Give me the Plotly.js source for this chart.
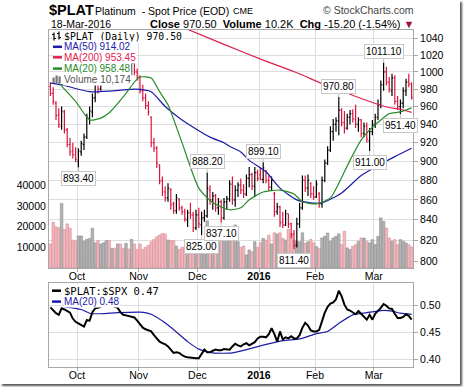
<!DOCTYPE html>
<html><head><meta charset="utf-8">
<script src="https://cdn.plot.ly/plotly-3.0.1.min.js"></script>
<style>
html,body{margin:0;padding:0;background:#fff;}
#wrap{position:absolute;left:0;top:0;width:460px;height:384px;box-shadow:2px 2px 2px #555;background:#fff;}
#chart{width:460px;height:384px;}
</style></head><body><div id="wrap"><div id="chart"></div></div>
<script>
// ---------- DATA ----------
const monthLabels = ['Oct','Nov','Dec','<b>2016</b>','Feb','Mar'];
const monthStartBar = [10,32,53,75,95,116];
const priceTicks = [800,820,840,860,880,900,920,940,960,980,1000,1020,1040];
const volumeTicks = [10000,20000,30000,40000];
const ratioTicks = [0.40,0.45,0.50];

const open = [983,975,964,950,938,954,934,918,911,907,900,910,918,926,947,954,970,988,980,996,
1003,1008,1001,1005,1002,1011,1006,998,1004,999,1010,1000,994,978,970,961,948,920,914,896,
880,868,862,870,856,849,860,852,848,840,847,845,832,845,835,842,844,870,860,864,
852,858,842,858,861,876,860,870,875,870,866,882,886,874,888,886,881,890,880,873,
866,848,853,838,835,846,836,826,815,836,852,880,872,877,866,863,866,856,880,898,
912,932,940,944,956,942,936,948,952,946,940,945,930,938,922,932,940,948,962,985,
1000,988,978,993,966,960,964,978,988,985.7];
const high = [988,982,966,958,960,956,936,925,920,915,914,922,930,952,960,975,992,992,1000,1008,
1012,1013,1010,1012,1015,1016,1010,1008,1010,1013,1012,1004,996,985,975,966,949,925,916,897,
884,874,877,872,858,866,862,854,851,850,857,848,850,852,848,850,888.2,875,868,866,
862,860,862,864,880,884,875,878,882,876,886,894,888,894,891,894,899.1,891,885,884,
868,857,854,848,850,846,837,830,842,857,885,885,886,878,874,880,868,884,902,916,
938,946,948,970.8,958,955,952,956,957,962,948,946,942,942,936,945,952,968,990,1011.1,
1006,994,998,996,972,968,982,992,998,988];
const low = [972,962,945,936,934,930,915,906,903,899,893.4,906,912,924,940,948,965,975,978,990,
998,998,995,999,1000,1002,994,994,996,996,996,990,975,966,957,950,915,910,893,876,
864,858,858,850,846,846,849,845,838,833,841,828,830,832,825,838,842,855,850,848,
845,837.1,840,850,858,855,853,863,866,862,864,873,870,863,879,880,877,877,869,869,
843,845,833,832,834,832,822,811.4,813,832,850,868,864,862,860,862,852,852,878,896,
910,922,932,928,938,930,934,940,942,936,932,926,926,920,911,928,936,945,958,978,
984,976,972,962,956,951.4,958,972,982,968];
const close = [975,966,950,940,955,934,918,910,907,902,911,919,926,948,955,970,987,980,996,1003,
1008,1001,1005,1002,1011,1006,998,1004,999,1010,1000,994,978,970,961,954,920,914,898,879,
868,862,872,855,849,862,852,848,841,847,845,832,845,836,842,844,872,860,864,852,
858,842,858,861,876,860,870,875,870,866,882,886,874,888,882,881,893,880,873,880,
848,853,837,835,846,836,826,815,836,852,880,872,880,866,863,876,856,880,898,912,
932,940,944,956,942,936,948,952,946,940,945,930,938,924,932,940,948,962,985,1000,
988,980,993,966,960,964,978,988,985.7,970.5];
const volume = [11600,22100,19900,19500,31200,18600,21300,19200,13500,13000,15500,15500,12900,13800,14300,19200,12200,13200,11600,12200,
13200,13200,9500,9500,11600,11600,9500,11900,9200,13800,11600,9000,11600,9000,10000,11000,12700,13800,15100,15900,
16700,16400,13500,13200,13200,10600,9000,10000,10000,11000,11900,12200,10600,12700,12700,12700,22800,12700,11900,13200,
12700,13200,14300,15900,17500,15100,20800,12700,10000,10600,6300,8700,7900,12700,10000,12200,14300,13500,15900,11600,
17000,16400,17000,14300,13500,18600,16700,13500,12700,12700,17000,11900,12700,13800,12200,10300,9500,14500,15300,16900,
12900,14500,15300,16500,11300,17700,9700,8900,10500,11300,12900,14500,14500,12900,12100,13700,11300,15300,24200,22500,
19300,14500,12900,13700,11300,13700,12900,12100,11300,10174];

const ma50Bar = [0,4,14,26,30,36,41,47,57,62,64,68,71,77,82,88,93,97,104,111,118,123,129];
const ma50Val = [987,985,977,979,980,977,960,945,926,920,916,910,901,889,872,860,857,857,867,885,897,905,914];
const ma200Bar = [48,62,76,88,98,104,112,120,125,129];
const ma200Val = [1053,1033,1014,999,985,978,968,959.5,957,953.5];
const ma20Bar = [3,9,14,18,21,26,30,32,36,39,42,47,53,58,64,68,71,76,82,87,90,95,100,103,107,111,114,118,121,125,129];
const ma20Val = [987,966,945,947,953,971,988,994,993,977,962,920,872,857,850,852,860,868,870,866,858,856,862,877,901,923,934,945,952,954,958.5];

const ratio = [0.497,0.492,0.486,0.483,0.495,0.493,0.490,0.487,0.476,0.470,0.467,0.464,0.461,0.473,0.472,0.488,0.495,0.496,0.498,0.500,
0.503,0.502,0.500,0.499,0.496,0.488,0.483,0.482,0.481,0.480,0.478,0.472,0.465,0.459,0.456,0.454,0.452,0.445,0.438,0.433,
0.430,0.428,0.424,0.418,0.412,0.413,0.412,0.408,0.405,0.404,0.403,0.402,0.402,0.402,0.411,0.418,0.413,0.413,0.416,0.418,
0.417,0.417,0.419,0.419,0.418,0.424,0.429,0.426,0.424,0.428,0.430,0.426,0.429,0.432,0.439,0.442,0.442,0.441,0.447,0.458,
0.447,0.433,0.452,0.437,0.441,0.439,0.443,0.439,0.439,0.445,0.459,0.468,0.463,0.454,0.452,0.452,0.455,0.472,0.487,0.498,
0.504,0.506,0.512,0.528,0.518,0.502,0.493,0.491,0.487,0.484,0.490,0.484,0.478,0.474,0.483,0.474,0.485,0.490,0.496,0.503,
0.500,0.495,0.494,0.485,0.477,0.477,0.479,0.484,0.481,0.474];
const ratioMaBar = [5,11,14,18,24,32,36,42,49,53,58,65,75,83,89,95,99,103,108,113,118,122,125,129];
const ratioMaVal = [0.498,0.493,0.486,0.485,0.487,0.488,0.484,0.464,0.433,0.419,0.412,0.412,0.425,0.435,0.438,0.448,0.452,0.467,0.483,0.487,0.491,0.490,0.486,0.484];

// annotated extremes: bar, value, side
const markBar = [10,54,56,61,76,87,103,114,119,125];
const markVal = [893.40,825.00,888.20,837.10,899.10,811.40,970.80,911.00,1011.10,951.40];
const markSide = ['low','low','high','low','high','low','high','low','high','low'];

const legendMain = ['$PLAT (Daily) 970.50','MA(50) 914.02','MA(200) 953.45','MA(20) 958.48','Volume 10,174'];
const legendLower = ['$PLAT:$SPX 0.47','MA(20) 0.48'];

// ---------- STYLE / LAYOUT ----------
const W=460,H=384,ML=49,MR=47,MT=30,MB=17;
const PW=W-ML-MR, PH=H-MT-MB;
const px=x=>(x-ML)/PW, py=y=>(H-MB-y)/PH;
const C_UP='#000000', C_DN='#dc143c', C_MA50='#1c1ca8', C_MA200='#e0204a', C_MA20='#2a8a2a';
const FONT='Liberation Sans, Arial, sans-serif';
const MONO='DejaVu Sans Mono, monospace';

const idx = close.map((_,i)=>i);
const volColor = close.map((c,i)=> c>=open[i] ? '#b4b4b4' : '#f2b8bd');
const volLine = close.map((c,i)=> c>=open[i] ? '#8c8c8c' : '#d88a96');

const traces = [
 {type:'bar', x:idx, y:volume, xaxis:'x', yaxis:'y', marker:{color:volColor, line:{color:volLine,width:0.6}}, width:0.9, hoverinfo:'skip', showlegend:false},
 {type:'scatter', mode:'lines', x:ma200Bar, y:ma200Val, xaxis:'x', yaxis:'y2', line:{color:C_MA200,width:1.2,shape:'spline',smoothing:0.6}, showlegend:false, hoverinfo:'skip'},
 {type:'scatter', mode:'lines', x:ma50Bar, y:ma50Val, xaxis:'x', yaxis:'y2', line:{color:C_MA50,width:1.2,shape:'spline',smoothing:0.6}, showlegend:false, hoverinfo:'skip'},
 {type:'scatter', mode:'lines', x:ma20Bar, y:ma20Val, xaxis:'x', yaxis:'y2', line:{color:C_MA20,width:1.2,shape:'spline',smoothing:0.6}, showlegend:false, hoverinfo:'skip'},
 {type:'ohlc', x:idx, open:open, high:high, low:low, close:close, xaxis:'x', yaxis:'y2', tickwidth:0.4,
  increasing:{line:{color:C_UP,width:1.2}}, decreasing:{line:{color:C_DN,width:1.2}}, showlegend:false, hoverinfo:'skip'},
 {type:'scatter', mode:'lines', x:ratioMaBar, y:ratioMaVal, xaxis:'x2', yaxis:'y3', line:{color:C_MA50,width:1.2,shape:'spline',smoothing:0.6}, showlegend:false, hoverinfo:'skip'},
 {type:'scatter', mode:'lines', x:idx, y:ratio, xaxis:'x2', yaxis:'y3', line:{color:'#000',width:2}, showlegend:false, hoverinfo:'skip'}
];

const gridC='#dedede', lineC='#a8a8a8';
const tickvalsX = monthStartBar.map(b=>b-0.5);
const xCommon = {range:[-0.5,close.length-0.5], tickvals:tickvalsX, ticktext:monthLabels, showgrid:true, gridcolor:gridC,
  ticks:'outside', ticklen:3, tickcolor:lineC, ticklabelstandoff:-5, showline:true, mirror:true, linecolor:lineC, linewidth:1,
  tickfont:{family:FONT,size:10.5,color:'#000'}, zeroline:false, fixedrange:true, rangeslider:{visible:false}};

const annotations = [];
const shapes = [];
// extreme labels
markBar.forEach((b,k)=>{
  annotations.push({x:b, y:Math.log10(markVal[k]), xref:'x', yref:'y2', text:markVal[k].toFixed(2),
   showarrow:true, arrowhead:0, arrowwidth:1, arrowcolor:'#c4c4c4', ax:0, ay:(markSide[k]==='low'?11:-11), standoff:0,
   bgcolor:'#ffffff', bordercolor:'#c8c8c8', borderwidth:1, borderpad:1, font:{family:FONT,size:10,color:'#000'}});
});
// main legend
const legColors = ['#000',C_MA50,C_MA200,C_MA20,'#555'];
const legY = [36.2,46.8,57.3,68.6,79.2];
legendMain.forEach((t,k)=>{
  annotations.push({xref:'paper',yref:'paper',x:px(k===0?63:62.5),y:py(legY[k]),xanchor:'left',yanchor:'middle',text:t,showarrow:false,
   font:{family:(k===0?MONO:FONT),size:(k===0?9.8:10),color:legColors[k]}, bgcolor:'#ffffff', borderpad:0});
});
[1,2,3].forEach(k=>{
  shapes.push({type:'line',xref:'paper',yref:'paper',x0:px(53),x1:px(62),y0:py(legY[k]),y1:py(legY[k]),line:{color:legColors[k],width:2.5}});
});
// OHLC icon
[[54,32.5,40.5],[59,31.5,39.5]].forEach(([x,y0,y1])=>{
  shapes.push({type:'line',xref:'paper',yref:'paper',x0:px(x),x1:px(x),y0:py(y0),y1:py(y1),line:{color:'#000',width:1.2}});
  shapes.push({type:'line',xref:'paper',yref:'paper',x0:px(x-2),x1:px(x),y0:py(y0+2),y1:py(y0+2),line:{color:'#000',width:1}});
  shapes.push({type:'line',xref:'paper',yref:'paper',x0:px(x),x1:px(x+2),y0:py(y1-2),y1:py(y1-2),line:{color:'#000',width:1}});
});
// volume icon
[[52.5,77.5],[55.5,75.5],[58.5,76.5]].forEach(([x,yt])=>{
  shapes.push({type:'rect',xref:'paper',yref:'paper',x0:px(x),x1:px(x+2.2),y0:py(83),y1:py(yt),fillcolor:'#777',line:{width:0}});
});
// lower legend
const lowLegY=[290.7,301.6], lowLegC=['#000',C_MA50];
legendLower.forEach((t,k)=>{
  annotations.push({xref:'paper',yref:'paper',x:px(63),y:py(lowLegY[k]),xanchor:'left',yanchor:'middle',text:t,showarrow:false,
   font:{family:(k===0?MONO:FONT),size:(k===0?10.5:10),color:lowLegC[k]}, bgcolor:'#ffffff', borderpad:0});
  shapes.push({type:'line',xref:'paper',yref:'paper',x0:px(52),x1:px(61),y0:py(lowLegY[k]),y1:py(lowLegY[k]),line:{color:lowLegC[k],width:2.5}});
});
// header
annotations.push({xref:'paper',yref:'paper',x:px(47),y:py(10),xanchor:'left',yanchor:'middle',showarrow:false,text:'<b>$PLAT</b>',font:{family:FONT,size:14.5,color:'#000'}});
annotations.push({xref:'paper',yref:'paper',x:px(93),y:py(10.5),xanchor:'left',yanchor:'middle',showarrow:false,text:'Platinum  - Spot Price (EOD)',font:{family:FONT,size:10.5,color:'#000'}});
annotations.push({xref:'paper',yref:'paper',x:px(231),y:py(11),xanchor:'left',yanchor:'middle',showarrow:false,text:'CME',font:{family:FONT,size:9,color:'#000'}});
annotations.push({xref:'paper',yref:'paper',x:px(416),y:py(10),xanchor:'right',yanchor:'middle',showarrow:false,text:'© StockCharts.com',font:{family:FONT,size:10.5,color:'#444'}});
annotations.push({xref:'paper',yref:'paper',x:px(49),y:py(24),xanchor:'left',yanchor:'middle',showarrow:false,text:'18-Mar-2016',font:{family:FONT,size:10.5,color:'#000'}});
annotations.push({xref:'paper',yref:'paper',x:px(416),y:py(24),xanchor:'right',yanchor:'middle',showarrow:false,
  text:'<b>Close</b> 970.50  <b>Volume</b> 10.2K  <b>Chg</b> -15.20 (-1.54%) <span style="color:#a0103a">▼</span>',font:{family:FONT,size:11,color:'#000'}});

const layout = {
  width:W, height:H, margin:{l:ML,r:MR,t:MT,b:MB,pad:0}, paper_bgcolor:'#fff', plot_bgcolor:'#fff', showlegend:false,
  font:{family:FONT,size:11,color:'#000'},
  bargap:0.1,
  xaxis:Object.assign({}, xCommon, {anchor:'y', domain:[0,1]}),
  xaxis2:Object.assign({}, xCommon, {anchor:'y3', domain:[0,1]}),
  yaxis:{domain:[py(268),1], range:[0,115000], side:'left', tickvals:volumeTicks, ticktext:volumeTicks.map(String), showgrid:false, zeroline:false,
    ticks:'', showline:true, linecolor:lineC, tickfont:{family:FONT,size:10.5,color:'#000'}, fixedrange:true},
  yaxis2:{overlaying:'y', anchor:'x', side:'right', type:'log', range:[Math.log10(793.6),Math.log10(1050.7)], tickvals:priceTicks, ticktext:priceTicks.map(String),
    showgrid:true, gridcolor:gridC, zeroline:false, ticks:'outside', ticklen:4, tickcolor:lineC, showline:true, linecolor:lineC,
    tickfont:{family:FONT,size:10.5,color:'#000'}, fixedrange:true},
  yaxis3:{domain:[0,py(283)], anchor:'x2', side:'right', range:[0.3856,0.5424], tickvals:ratioTicks, ticktext:ratioTicks.map(v=>v.toFixed(2)),
    showgrid:true, gridcolor:gridC, zeroline:false, ticks:'outside', ticklen:4, tickcolor:lineC, showline:true, mirror:true, linecolor:lineC,
    tickfont:{family:FONT,size:10.5,color:'#000'}, fixedrange:true},
  annotations:annotations, shapes:shapes
};
Plotly.newPlot('chart', traces, layout, {staticPlot:true, displayModeBar:false});
</script></body></html>
